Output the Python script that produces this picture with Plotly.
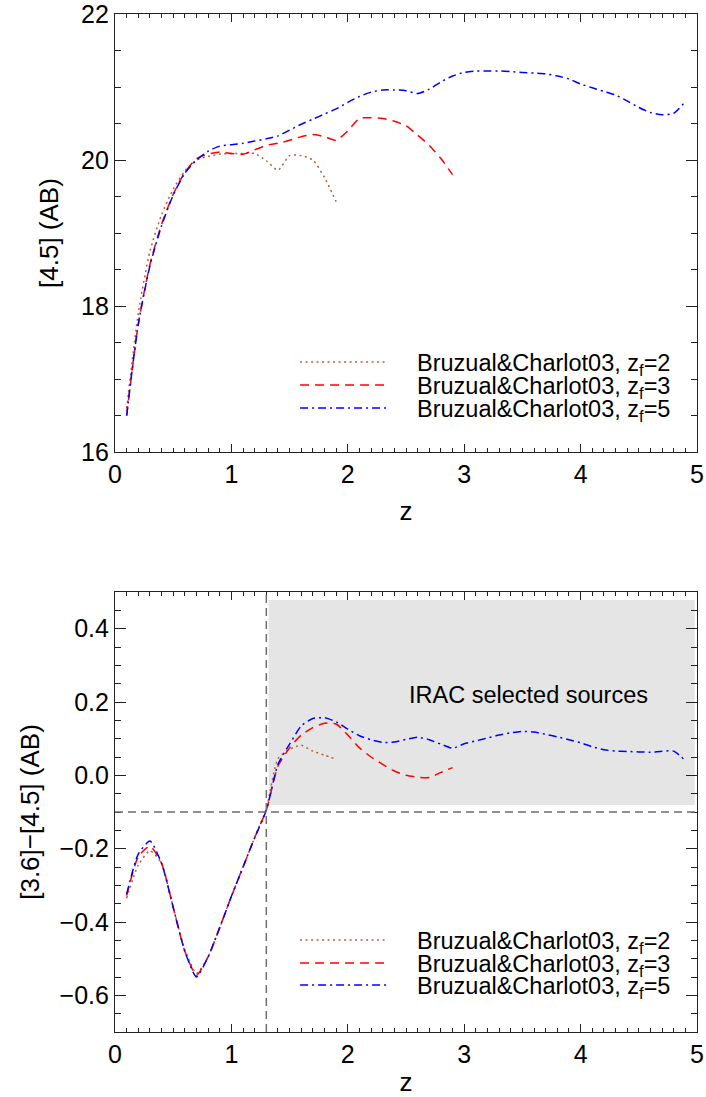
import plotly.graph_objects as go

# ---------------- data ----------------
z_zf2 = [0.1, 0.2, 0.3, 0.4, 0.5, 0.6, 0.7, 0.8, 0.9, 1.0,
         1.1, 1.2, 1.3, 1.4, 1.5, 1.6, 1.7, 1.8, 1.9]
z_zf3 = z_zf2 + [2.0, 2.1, 2.2, 2.3, 2.4, 2.5, 2.6, 2.7, 2.8, 2.9]
z_zf5 = z_zf3 + [3.0, 3.1, 3.2, 3.3, 3.4, 3.5, 3.6, 3.7, 3.8, 3.9,
                 4.0, 4.1, 4.2, 4.3, 4.4, 4.5, 4.6, 4.7, 4.8, 4.9]

mag45_zf2 = [16.6, 17.9, 18.75, 19.25, 19.6, 19.85, 20.0, 20.05, 20.08, 20.09,
             20.09, 20.09, 19.99, 19.86, 20.06, 20.06, 20.0, 19.76, 19.43]
mag45_zf3 = [16.5, 17.75, 18.57, 19.12, 19.53, 19.83, 20.02, 20.08, 20.11, 20.09,
             20.08, 20.14, 20.20, 20.23, 20.27, 20.32, 20.35, 20.32, 20.27, 20.40,
             20.57, 20.58, 20.57, 20.53, 20.47, 20.34, 20.20, 20.02, 19.80]
mag45_zf5 = [16.5, 17.75, 18.55, 19.1, 19.52, 19.82, 20.0, 20.12, 20.19, 20.21,
             20.23, 20.26, 20.29, 20.33, 20.41, 20.49, 20.56, 20.63, 20.70, 20.79,
             20.87, 20.93, 20.96, 20.96, 20.95, 20.91, 20.97, 21.07, 21.15, 21.20,
             21.22, 21.22, 21.22, 21.21, 21.20, 21.19, 21.18, 21.15, 21.11, 21.04,
             20.99, 20.94, 20.89, 20.81, 20.72, 20.65, 20.62, 20.64, 20.80]

col_zf2 = [-0.335, -0.245, -0.206, -0.24, -0.36, -0.475, -0.54, -0.495, -0.415, -0.33,
           -0.25, -0.17, -0.09, 0.045, 0.071, 0.082, 0.066, 0.055, 0.044]
col_zf3 = [-0.328, -0.222, -0.193, -0.24, -0.36, -0.48, -0.545, -0.495, -0.415, -0.33,
           -0.25, -0.17, -0.095, 0.025, 0.075, 0.11, 0.13, 0.142, 0.14, 0.11,
           0.075, 0.05, 0.03, 0.012, 0.0, -0.005, -0.006, 0.008, 0.021]
col_zf5 = [-0.324, -0.215, -0.179, -0.24, -0.36, -0.48, -0.55, -0.495, -0.415, -0.33,
           -0.25, -0.17, -0.095, 0.03, 0.085, 0.135, 0.155, 0.157, 0.146, 0.126,
           0.108, 0.097, 0.09, 0.091, 0.098, 0.104, 0.097, 0.085, 0.074, 0.086,
           0.094, 0.102, 0.11, 0.116, 0.12, 0.118, 0.112, 0.105, 0.097, 0.089,
           0.078, 0.07, 0.066, 0.065, 0.064, 0.063, 0.066, 0.066, 0.04]

series_names = ["Bruzual&Charlot03, z<sub>f</sub>=2",
                "Bruzual&Charlot03, z<sub>f</sub>=3",
                "Bruzual&Charlot03, z<sub>f</sub>=5"]

# selection cuts
z_cut = 1.3
col_cut = -0.1
shade_x = [1.32, 4.98]
shade_y = [-0.081, 0.478]

# ---------------- styles ----------------
FONT = "Liberation Sans, Arial, Helvetica, sans-serif"
TICK_SIZE = 25
TITLE_SIZE = 26
TEXT_SIZE = 23.5
styles = [
    dict(color="#b0603a", dash="2px,3.5px"),
    dict(color="#ff0000", dash="9px,6px"),
    dict(color="#0000ff", dash="8px,4px,2px,4px"),
]
LW = 1.5

fig = go.Figure()
top_sets = [(z_zf2, mag45_zf2), (z_zf3, mag45_zf3), (z_zf5, mag45_zf5)]
bot_sets = [(z_zf2, col_zf2), (z_zf3, col_zf3), (z_zf5, col_zf5)]
for i, (x, y) in enumerate(top_sets):
    fig.add_trace(go.Scatter(x=x, y=y, mode="lines", name=series_names[i],
                             line=dict(color=styles[i]["color"], dash=styles[i]["dash"],
                                       width=LW, shape="spline", smoothing=0.6),
                             showlegend=False, xaxis="x", yaxis="y"))
for i, (x, y) in enumerate(bot_sets):
    fig.add_trace(go.Scatter(x=x, y=y, mode="lines", name=series_names[i],
                             line=dict(color=styles[i]["color"], dash=styles[i]["dash"],
                                       width=LW, shape="spline", smoothing=0.6),
                             showlegend=False, xaxis="x2", yaxis="y2"))

axis_common = dict(showline=True, linecolor="#222222", linewidth=1.2, mirror="allticks",
                   ticks="inside", tickcolor="#222222", tickwidth=1.1, showgrid=False,
                   zeroline=False, automargin=False, ticklabeloverflow="allow",
                   tickfont=dict(family=FONT, size=TICK_SIZE, color="black"))

fig.update_layout(
    width=706, height=1097,
    margin=dict(l=115, r=9, t=14, b=65),
    plot_bgcolor="white", paper_bgcolor="white",
    font=dict(family=FONT, color="black"),
    xaxis=dict(axis_common, domain=[0, 1], anchor="y", range=[0, 5], dtick=1, ticklen=8,
               minor=dict(dtick=0.1, ticklen=4, ticks="inside", tickcolor="#222222"),
               title=dict(text="z", font=dict(size=TITLE_SIZE), standoff=14)),
    yaxis=dict(axis_common, domain=[0.5697, 1], anchor="x", range=[16, 22], dtick=2, ticklen=11,
               minor=dict(dtick=0.5, ticklen=6, ticks="inside", tickcolor="#222222"),
               title=dict(text="[4.5] (AB)", font=dict(size=TITLE_SIZE), standoff=14)),
    xaxis2=dict(axis_common, domain=[0, 1], anchor="y2", range=[0, 5], dtick=1, ticklen=8,
                minor=dict(dtick=0.1, ticklen=4, ticks="inside", tickcolor="#222222"),
                title=dict(text="z", font=dict(size=TITLE_SIZE), standoff=18)),
    yaxis2=dict(axis_common, domain=[0, 0.4322], anchor="x2", range=[-0.7, 0.5], dtick=0.2,
                tickformat=".1f", ticklen=11,
                minor=dict(dtick=0.05, ticklen=6, ticks="inside", tickcolor="#222222"),
                title=dict(text="[3.6]\u2212[4.5] (AB)", font=dict(size=TITLE_SIZE), standoff=12)),
)

shapes = []
# shaded IRAC region
shapes.append(dict(type="rect", xref="x2", yref="y2", x0=shade_x[0], x1=shade_x[1],
                   y0=shade_y[0], y1=shade_y[1], fillcolor="#e5e5e5", line=dict(width=0),
                   layer="below"))
# cut lines
shapes.append(dict(type="line", xref="x2", yref="y2", x0=0, x1=5, y0=col_cut, y1=col_cut,
                   line=dict(color="#6e6e6e", width=1.5, dash="8px,5px")))
shapes.append(dict(type="line", xref="x2", yref="y2", x0=z_cut, x1=z_cut, y0=-0.7, y1=0.5,
                   line=dict(color="#6e6e6e", width=1.5, dash="8px,5px")))

annotations = [dict(x=3.55, y=0.22, xref="x2", yref="y2", text="IRAC selected sources",
                    showarrow=False, font=dict(family=FONT, size=TEXT_SIZE, color="black"))]

# manual legends (sample lines + labels) in each panel
legend_rows = {"top": ("x domain", "y domain", [0.2055, 0.153, 0.1005]),
               "bot": ("x2 domain", "y2 domain", [0.209, 0.157, 0.107])}
for key, (xr, yr, rows) in legend_rows.items():
    for i, yy in enumerate(rows):
        shapes.append(dict(type="line", xref=xr, yref=yr, x0=0.318, x1=0.469, y0=yy, y1=yy,
                           line=dict(color=styles[i]["color"], dash=styles[i]["dash"], width=LW)))
        annotations.append(dict(x=0.516, y=yy - 0.006, xref=xr, yref=yr, text=series_names[i],
                                showarrow=False, xanchor="left", yanchor="middle",
                                font=dict(family=FONT, size=TEXT_SIZE, color="black")))

fig.update_layout(shapes=shapes, annotations=annotations)
fig.write_html("out.html")
